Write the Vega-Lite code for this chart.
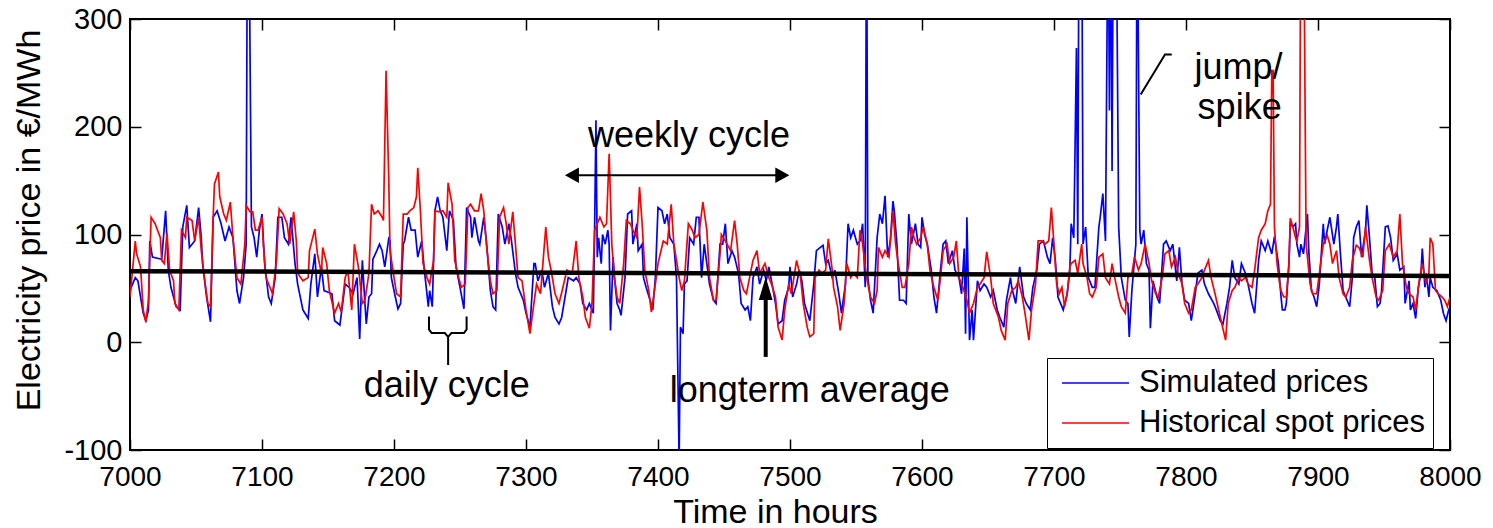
{
"$schema": "https://vega.github.io/schema/vega-lite/v6.json",
"width": 1320, "height": 431,
"autosize": {"type": "none"},
"padding": {"left": 130, "top": 19, "right": 43, "bottom": 78},
"background": "white",
"config": {"font": "Liberation Sans", "view": {"stroke": "black", "strokeWidth": 2}, "axis": {"grid": false, "domain": false, "tickColor": "black", "tickWidth": 1.5, "tickSize": 11, "offset": -11, "labelColor": "black", "titleColor": "black", "titleFontWeight": "normal", "labelFlush": false, "labelOverlap": false}},
"datasets": {
"sim": [{"h":7000,"v":48},{"h":7004,"v":60},{"h":7006,"v":57},{"h":7010,"v":27},{"h":7012,"v":20},{"h":7014,"v":30},{"h":7015,"v":94},{"h":7017,"v":79},{"h":7024,"v":77},{"h":7027,"v":122},{"h":7029,"v":67},{"h":7031,"v":51},{"h":7035,"v":33},{"h":7038,"v":30},{"h":7040,"v":107},{"h":7043,"v":127},{"h":7045,"v":88},{"h":7049,"v":94},{"h":7052,"v":125},{"h":7054,"v":97},{"h":7055,"v":73},{"h":7058,"v":42},{"h":7061,"v":19},{"h":7063,"v":116},{"h":7066,"v":122},{"h":7069,"v":110},{"h":7072,"v":94},{"h":7075,"v":107},{"h":7078,"v":97},{"h":7081,"v":48},{"h":7083,"v":36},{"h":7086,"v":60},{"h":7088,"v":91},{"h":7089,"v":420},{"h":7090,"v":410},{"h":7092,"v":107},{"h":7094,"v":97},{"h":7096,"v":79},{"h":7098,"v":104},{"h":7100,"v":119},{"h":7102,"v":73},{"h":7105,"v":42},{"h":7107,"v":36},{"h":7110,"v":60},{"h":7112,"v":116},{"h":7115,"v":116},{"h":7117,"v":97},{"h":7120,"v":91},{"h":7122,"v":116},{"h":7125,"v":73},{"h":7127,"v":54},{"h":7131,"v":30},{"h":7135,"v":22},{"h":7137,"v":54},{"h":7140,"v":82},{"h":7142,"v":42},{"h":7145,"v":70},{"h":7147,"v":48},{"h":7153,"v":45},{"h":7155,"v":20},{"h":7159,"v":16},{"h":7163,"v":54},{"h":7166,"v":51},{"h":7169,"v":45},{"h":7172,"v":60},{"h":7174,"v":3},{"h":7176,"v":76},{"h":7178,"v":36},{"h":7179,"v":17},{"h":7181,"v":42},{"h":7183,"v":45},{"h":7184,"v":77},{"h":7187,"v":85},{"h":7189,"v":91},{"h":7191,"v":85},{"h":7193,"v":70},{"h":7196,"v":96},{"h":7197,"v":94},{"h":7198,"v":60},{"h":7201,"v":42},{"h":7203,"v":31},{"h":7205,"v":36},{"h":7207,"v":91},{"h":7208,"v":94},{"h":7211,"v":116},{"h":7213,"v":104},{"h":7216,"v":104},{"h":7218,"v":79},{"h":7221,"v":94},{"h":7223,"v":67},{"h":7226,"v":33},{"h":7227,"v":48},{"h":7229,"v":33},{"h":7231,"v":122},{"h":7233,"v":135},{"h":7235,"v":122},{"h":7237,"v":116},{"h":7240,"v":85},{"h":7242,"v":122},{"h":7245,"v":113},{"h":7247,"v":70},{"h":7250,"v":51},{"h":7253,"v":31},{"h":7255,"v":125},{"h":7258,"v":116},{"h":7259,"v":97},{"h":7261,"v":116},{"h":7264,"v":94},{"h":7265,"v":91},{"h":7268,"v":116},{"h":7270,"v":94},{"h":7273,"v":48},{"h":7275,"v":33},{"h":7277,"v":30},{"h":7279,"v":119},{"h":7282,"v":107},{"h":7284,"v":91},{"h":7287,"v":110},{"h":7289,"v":94},{"h":7292,"v":64},{"h":7294,"v":51},{"h":7298,"v":39},{"h":7300,"v":27},{"h":7303,"v":14},{"h":7306,"v":73},{"h":7307,"v":73},{"h":7309,"v":57},{"h":7312,"v":67},{"h":7314,"v":51},{"h":7317,"v":64},{"h":7320,"v":33},{"h":7322,"v":23},{"h":7325,"v":17},{"h":7327,"v":23},{"h":7330,"v":45},{"h":7332,"v":60},{"h":7336,"v":57},{"h":7338,"v":60},{"h":7341,"v":54},{"h":7343,"v":36},{"h":7346,"v":30},{"h":7348,"v":36},{"h":7351,"v":27},{"h":7352,"v":107},{"h":7353,"v":206},{"h":7354,"v":79},{"h":7355,"v":97},{"h":7357,"v":73},{"h":7358,"v":100},{"h":7360,"v":91},{"h":7362,"v":104},{"h":7363,"v":91},{"h":7364,"v":11},{"h":7366,"v":79},{"h":7367,"v":60},{"h":7369,"v":36},{"h":7371,"v":30},{"h":7372,"v":25},{"h":7375,"v":60},{"h":7377,"v":119},{"h":7380,"v":122},{"h":7381,"v":91},{"h":7384,"v":110},{"h":7385,"v":85},{"h":7388,"v":91},{"h":7389,"v":60},{"h":7391,"v":51},{"h":7394,"v":39},{"h":7396,"v":30},{"h":7398,"v":60},{"h":7400,"v":125},{"h":7403,"v":122},{"h":7405,"v":110},{"h":7407,"v":119},{"h":7409,"v":97},{"h":7412,"v":91},{"h":7414,"v":60},{"h":7416,"v":-110},{"h":7417,"v":14},{"h":7419,"v":8},{"h":7420,"v":54},{"h":7422,"v":57},{"h":7424,"v":97},{"h":7427,"v":91},{"h":7429,"v":116},{"h":7431,"v":116},{"h":7433,"v":60},{"h":7435,"v":91},{"h":7437,"v":73},{"h":7439,"v":54},{"h":7442,"v":39},{"h":7444,"v":36},{"h":7447,"v":91},{"h":7449,"v":91},{"h":7451,"v":110},{"h":7453,"v":73},{"h":7456,"v":85},{"h":7458,"v":79},{"h":7461,"v":64},{"h":7463,"v":36},{"h":7466,"v":30},{"h":7468,"v":33},{"h":7470,"v":20},{"h":7472,"v":60},{"h":7475,"v":70},{"h":7477,"v":54},{"h":7480,"v":67},{"h":7482,"v":57},{"h":7484,"v":70},{"h":7486,"v":57},{"h":7489,"v":36},{"h":7491,"v":17},{"h":7494,"v":20},{"h":7496,"v":39},{"h":7499,"v":51},{"h":7500,"v":70},{"h":7502,"v":42},{"h":7505,"v":54},{"h":7507,"v":67},{"h":7509,"v":57},{"h":7511,"v":36},{"h":7515,"v":20},{"h":7518,"v":54},{"h":7520,"v":85},{"h":7523,"v":88},{"h":7525,"v":90},{"h":7527,"v":73},{"h":7529,"v":76},{"h":7532,"v":60},{"h":7534,"v":67},{"h":7537,"v":45},{"h":7539,"v":27},{"h":7542,"v":54},{"h":7544,"v":110},{"h":7546,"v":97},{"h":7548,"v":104},{"h":7551,"v":91},{"h":7553,"v":94},{"h":7555,"v":110},{"h":7557,"v":51},{"h":7558,"v":420},{"h":7559,"v":60},{"h":7561,"v":39},{"h":7563,"v":27},{"h":7566,"v":97},{"h":7568,"v":119},{"h":7570,"v":110},{"h":7572,"v":136},{"h":7574,"v":79},{"h":7576,"v":94},{"h":7578,"v":131},{"h":7579,"v":122},{"h":7581,"v":91},{"h":7583,"v":39},{"h":7586,"v":39},{"h":7588,"v":36},{"h":7590,"v":119},{"h":7592,"v":91},{"h":7595,"v":110},{"h":7597,"v":91},{"h":7599,"v":88},{"h":7600,"v":116},{"h":7602,"v":100},{"h":7604,"v":91},{"h":7607,"v":67},{"h":7609,"v":42},{"h":7611,"v":27},{"h":7614,"v":67},{"h":7616,"v":91},{"h":7618,"v":94},{"h":7620,"v":73},{"h":7623,"v":85},{"h":7625,"v":67},{"h":7628,"v":60},{"h":7630,"v":45},{"h":7632,"v":87},{"h":7633,"v":8},{"h":7634,"v":116},{"h":7636,"v":2},{"h":7638,"v":30},{"h":7639,"v":2},{"h":7642,"v":57},{"h":7644,"v":48},{"h":7647,"v":54},{"h":7649,"v":51},{"h":7652,"v":42},{"h":7654,"v":48},{"h":7657,"v":30},{"h":7659,"v":23},{"h":7662,"v":14},{"h":7664,"v":39},{"h":7667,"v":60},{"h":7668,"v":51},{"h":7671,"v":36},{"h":7674,"v":70},{"h":7677,"v":42},{"h":7679,"v":36},{"h":7682,"v":30},{"h":7684,"v":51},{"h":7687,"v":67},{"h":7689,"v":91},{"h":7692,"v":94},{"h":7695,"v":79},{"h":7697,"v":73},{"h":7699,"v":97},{"h":7701,"v":76},{"h":7703,"v":42},{"h":7706,"v":33},{"h":7707,"v":30},{"h":7710,"v":45},{"h":7712,"v":67},{"h":7713,"v":110},{"h":7715,"v":97},{"h":7717,"v":273},{"h":7718,"v":91},{"h":7719,"v":420},{"h":7721,"v":420},{"h":7722,"v":91},{"h":7724,"v":107},{"h":7726,"v":60},{"h":7729,"v":51},{"h":7731,"v":51},{"h":7734,"v":107},{"h":7735,"v":116},{"h":7737,"v":138},{"h":7739,"v":94},{"h":7741,"v":420},{"h":7742,"v":215},{"h":7743,"v":420},{"h":7744,"v":159},{"h":7745,"v":420},{"h":7747,"v":420},{"h":7749,"v":107},{"h":7751,"v":60},{"h":7754,"v":39},{"h":7756,"v":36},{"h":7757,"v":5},{"h":7759,"v":48},{"h":7762,"v":91},{"h":7763,"v":420},{"h":7765,"v":104},{"h":7766,"v":91},{"h":7768,"v":104},{"h":7770,"v":73},{"h":7772,"v":67},{"h":7773,"v":13},{"h":7775,"v":57},{"h":7778,"v":42},{"h":7780,"v":36},{"h":7783,"v":91},{"h":7785,"v":94},{"h":7788,"v":85},{"h":7790,"v":91},{"h":7793,"v":57},{"h":7795,"v":88},{"h":7797,"v":54},{"h":7799,"v":39},{"h":7802,"v":36},{"h":7804,"v":20},{"h":7807,"v":45},{"h":7809,"v":64},{"h":7812,"v":67},{"h":7814,"v":54},{"h":7817,"v":45},{"h":7821,"v":36},{"h":7823,"v":30},{"h":7826,"v":20},{"h":7828,"v":17},{"h":7831,"v":36},{"h":7833,"v":51},{"h":7835,"v":76},{"h":7837,"v":60},{"h":7840,"v":54},{"h":7842,"v":73},{"h":7845,"v":64},{"h":7847,"v":54},{"h":7850,"v":36},{"h":7852,"v":27},{"h":7855,"v":76},{"h":7857,"v":94},{"h":7860,"v":85},{"h":7862,"v":94},{"h":7865,"v":82},{"h":7867,"v":98},{"h":7870,"v":73},{"h":7872,"v":42},{"h":7873,"v":30},{"h":7875,"v":30},{"h":7876,"v":36},{"h":7878,"v":73},{"h":7879,"v":110},{"h":7881,"v":107},{"h":7883,"v":110},{"h":7884,"v":91},{"h":7886,"v":79},{"h":7887,"v":91},{"h":7889,"v":82},{"h":7892,"v":119},{"h":7893,"v":85},{"h":7895,"v":48},{"h":7897,"v":42},{"h":7899,"v":33},{"h":7901,"v":54},{"h":7904,"v":110},{"h":7905,"v":91},{"h":7907,"v":104},{"h":7909,"v":116},{"h":7912,"v":91},{"h":7914,"v":107},{"h":7915,"v":119},{"h":7917,"v":82},{"h":7919,"v":48},{"h":7922,"v":39},{"h":7924,"v":33},{"h":7926,"v":60},{"h":7927,"v":97},{"h":7929,"v":107},{"h":7931,"v":113},{"h":7933,"v":79},{"h":7936,"v":104},{"h":7937,"v":127},{"h":7939,"v":97},{"h":7941,"v":64},{"h":7943,"v":60},{"h":7945,"v":33},{"h":7947,"v":36},{"h":7948,"v":45},{"h":7951,"v":107},{"h":7953,"v":108},{"h":7955,"v":97},{"h":7957,"v":76},{"h":7960,"v":82},{"h":7962,"v":67},{"h":7965,"v":70},{"h":7966,"v":36},{"h":7969,"v":57},{"h":7970,"v":30},{"h":7972,"v":36},{"h":7974,"v":22},{"h":7976,"v":51},{"h":7978,"v":64},{"h":7979,"v":87},{"h":7981,"v":51},{"h":7982,"v":64},{"h":7984,"v":42},{"h":7985,"v":60},{"h":7987,"v":51},{"h":7990,"v":48},{"h":7993,"v":39},{"h":7995,"v":27},{"h":7997,"v":20},{"h":7999,"v":30},{"h":8000,"v":33}],
"hist": [{"h":7000,"v":42},{"h":7004,"v":94},{"h":7005,"v":82},{"h":7008,"v":70},{"h":7010,"v":30},{"h":7012,"v":19},{"h":7014,"v":39},{"h":7016,"v":116},{"h":7019,"v":110},{"h":7023,"v":97},{"h":7024,"v":76},{"h":7026,"v":73},{"h":7028,"v":101},{"h":7030,"v":67},{"h":7033,"v":57},{"h":7034,"v":36},{"h":7037,"v":30},{"h":7039,"v":104},{"h":7042,"v":97},{"h":7043,"v":116},{"h":7047,"v":113},{"h":7049,"v":94},{"h":7052,"v":116},{"h":7054,"v":85},{"h":7057,"v":54},{"h":7059,"v":36},{"h":7061,"v":33},{"h":7063,"v":116},{"h":7064,"v":147},{"h":7067,"v":158},{"h":7068,"v":135},{"h":7071,"v":119},{"h":7073,"v":113},{"h":7076,"v":130},{"h":7078,"v":97},{"h":7081,"v":60},{"h":7084,"v":54},{"h":7087,"v":91},{"h":7088,"v":127},{"h":7091,"v":121},{"h":7093,"v":121},{"h":7095,"v":104},{"h":7097,"v":104},{"h":7100,"v":116},{"h":7101,"v":91},{"h":7103,"v":60},{"h":7106,"v":51},{"h":7108,"v":45},{"h":7111,"v":76},{"h":7113,"v":124},{"h":7116,"v":119},{"h":7119,"v":110},{"h":7121,"v":91},{"h":7124,"v":121},{"h":7126,"v":94},{"h":7127,"v":64},{"h":7131,"v":57},{"h":7135,"v":60},{"h":7136,"v":85},{"h":7140,"v":105},{"h":7142,"v":82},{"h":7145,"v":64},{"h":7146,"v":88},{"h":7149,"v":73},{"h":7151,"v":48},{"h":7155,"v":27},{"h":7158,"v":36},{"h":7160,"v":28},{"h":7163,"v":60},{"h":7165,"v":67},{"h":7168,"v":30},{"h":7170,"v":91},{"h":7173,"v":70},{"h":7176,"v":36},{"h":7178,"v":39},{"h":7181,"v":64},{"h":7183,"v":128},{"h":7185,"v":119},{"h":7188,"v":122},{"h":7191,"v":116},{"h":7192,"v":113},{"h":7194,"v":252},{"h":7196,"v":153},{"h":7197,"v":85},{"h":7200,"v":60},{"h":7202,"v":45},{"h":7205,"v":42},{"h":7207,"v":119},{"h":7210,"v":119},{"h":7212,"v":122},{"h":7215,"v":125},{"h":7217,"v":135},{"h":7218,"v":162},{"h":7220,"v":122},{"h":7222,"v":73},{"h":7225,"v":60},{"h":7227,"v":54},{"h":7230,"v":76},{"h":7231,"v":122},{"h":7234,"v":121},{"h":7237,"v":122},{"h":7240,"v":116},{"h":7241,"v":148},{"h":7244,"v":128},{"h":7246,"v":76},{"h":7249,"v":60},{"h":7251,"v":51},{"h":7254,"v":54},{"h":7256,"v":125},{"h":7258,"v":128},{"h":7261,"v":122},{"h":7264,"v":122},{"h":7266,"v":138},{"h":7268,"v":122},{"h":7270,"v":91},{"h":7273,"v":57},{"h":7275,"v":45},{"h":7278,"v":48},{"h":7280,"v":116},{"h":7283,"v":125},{"h":7285,"v":110},{"h":7287,"v":91},{"h":7290,"v":121},{"h":7292,"v":91},{"h":7294,"v":60},{"h":7297,"v":57},{"h":7300,"v":30},{"h":7303,"v":8},{"h":7306,"v":36},{"h":7308,"v":54},{"h":7311,"v":45},{"h":7313,"v":76},{"h":7315,"v":107},{"h":7317,"v":79},{"h":7319,"v":67},{"h":7322,"v":45},{"h":7325,"v":36},{"h":7328,"v":51},{"h":7331,"v":67},{"h":7335,"v":64},{"h":7338,"v":94},{"h":7340,"v":60},{"h":7343,"v":42},{"h":7345,"v":23},{"h":7348,"v":13},{"h":7350,"v":36},{"h":7352,"v":104},{"h":7354,"v":110},{"h":7356,"v":116},{"h":7359,"v":107},{"h":7361,"v":110},{"h":7363,"v":175},{"h":7365,"v":91},{"h":7367,"v":60},{"h":7369,"v":42},{"h":7371,"v":36},{"h":7374,"v":73},{"h":7376,"v":113},{"h":7379,"v":110},{"h":7381,"v":104},{"h":7384,"v":97},{"h":7386,"v":144},{"h":7388,"v":110},{"h":7390,"v":67},{"h":7393,"v":48},{"h":7395,"v":28},{"h":7398,"v":54},{"h":7400,"v":73},{"h":7404,"v":94},{"h":7407,"v":91},{"h":7410,"v":128},{"h":7412,"v":91},{"h":7414,"v":76},{"h":7416,"v":60},{"h":7418,"v":48},{"h":7420,"v":57},{"h":7423,"v":110},{"h":7426,"v":104},{"h":7428,"v":97},{"h":7431,"v":100},{"h":7434,"v":130},{"h":7437,"v":104},{"h":7439,"v":60},{"h":7442,"v":39},{"h":7444,"v":39},{"h":7447,"v":82},{"h":7448,"v":100},{"h":7451,"v":94},{"h":7455,"v":85},{"h":7458,"v":113},{"h":7460,"v":91},{"h":7462,"v":60},{"h":7465,"v":48},{"h":7467,"v":45},{"h":7470,"v":64},{"h":7472,"v":76},{"h":7475,"v":85},{"h":7477,"v":64},{"h":7481,"v":73},{"h":7484,"v":60},{"h":7486,"v":54},{"h":7489,"v":42},{"h":7491,"v":14},{"h":7494,"v":2},{"h":7496,"v":30},{"h":7499,"v":54},{"h":7501,"v":45},{"h":7505,"v":76},{"h":7508,"v":60},{"h":7510,"v":36},{"h":7513,"v":14},{"h":7515,"v":5},{"h":7518,"v":8},{"h":7519,"v":60},{"h":7522,"v":67},{"h":7524,"v":64},{"h":7527,"v":67},{"h":7529,"v":96},{"h":7532,"v":67},{"h":7533,"v":51},{"h":7536,"v":33},{"h":7538,"v":11},{"h":7541,"v":36},{"h":7543,"v":73},{"h":7546,"v":60},{"h":7548,"v":64},{"h":7551,"v":60},{"h":7553,"v":104},{"h":7555,"v":91},{"h":7558,"v":60},{"h":7561,"v":42},{"h":7564,"v":36},{"h":7566,"v":48},{"h":7567,"v":88},{"h":7570,"v":79},{"h":7572,"v":85},{"h":7575,"v":79},{"h":7577,"v":107},{"h":7578,"v":122},{"h":7580,"v":91},{"h":7582,"v":73},{"h":7585,"v":51},{"h":7587,"v":51},{"h":7590,"v":73},{"h":7592,"v":107},{"h":7594,"v":97},{"h":7596,"v":91},{"h":7599,"v":97},{"h":7601,"v":107},{"h":7604,"v":91},{"h":7606,"v":67},{"h":7609,"v":51},{"h":7612,"v":39},{"h":7614,"v":60},{"h":7616,"v":85},{"h":7619,"v":91},{"h":7621,"v":73},{"h":7624,"v":79},{"h":7626,"v":94},{"h":7628,"v":60},{"h":7631,"v":51},{"h":7634,"v":39},{"h":7636,"v":27},{"h":7639,"v":36},{"h":7642,"v":51},{"h":7644,"v":54},{"h":7647,"v":60},{"h":7649,"v":84},{"h":7652,"v":60},{"h":7654,"v":36},{"h":7658,"v":23},{"h":7660,"v":11},{"h":7663,"v":2},{"h":7665,"v":36},{"h":7668,"v":48},{"h":7671,"v":51},{"h":7673,"v":57},{"h":7676,"v":42},{"h":7678,"v":27},{"h":7681,"v":2},{"h":7683,"v":30},{"h":7686,"v":54},{"h":7688,"v":94},{"h":7691,"v":94},{"h":7693,"v":91},{"h":7696,"v":94},{"h":7698,"v":125},{"h":7700,"v":91},{"h":7702,"v":54},{"h":7704,"v":45},{"h":7706,"v":51},{"h":7708,"v":33},{"h":7710,"v":45},{"h":7712,"v":70},{"h":7713,"v":73},{"h":7716,"v":76},{"h":7718,"v":64},{"h":7721,"v":91},{"h":7722,"v":73},{"h":7725,"v":60},{"h":7727,"v":45},{"h":7729,"v":42},{"h":7732,"v":51},{"h":7734,"v":79},{"h":7737,"v":82},{"h":7739,"v":60},{"h":7742,"v":54},{"h":7744,"v":73},{"h":7746,"v":60},{"h":7749,"v":42},{"h":7751,"v":33},{"h":7754,"v":27},{"h":7756,"v":60},{"h":7759,"v":64},{"h":7761,"v":79},{"h":7764,"v":67},{"h":7766,"v":73},{"h":7769,"v":91},{"h":7772,"v":73},{"h":7774,"v":57},{"h":7777,"v":45},{"h":7779,"v":42},{"h":7782,"v":60},{"h":7784,"v":82},{"h":7787,"v":85},{"h":7789,"v":70},{"h":7792,"v":79},{"h":7794,"v":64},{"h":7797,"v":54},{"h":7799,"v":36},{"h":7802,"v":27},{"h":7804,"v":30},{"h":7807,"v":51},{"h":7809,"v":54},{"h":7812,"v":60},{"h":7814,"v":67},{"h":7817,"v":76},{"h":7819,"v":60},{"h":7822,"v":45},{"h":7826,"v":23},{"h":7830,"v":2},{"h":7832,"v":36},{"h":7835,"v":48},{"h":7837,"v":51},{"h":7840,"v":60},{"h":7842,"v":57},{"h":7845,"v":60},{"h":7847,"v":54},{"h":7850,"v":51},{"h":7852,"v":67},{"h":7855,"v":97},{"h":7857,"v":104},{"h":7860,"v":110},{"h":7862,"v":122},{"h":7864,"v":128},{"h":7865,"v":252},{"h":7866,"v":252},{"h":7867,"v":107},{"h":7869,"v":73},{"h":7871,"v":54},{"h":7872,"v":48},{"h":7874,"v":42},{"h":7876,"v":42},{"h":7878,"v":73},{"h":7879,"v":115},{"h":7881,"v":107},{"h":7883,"v":97},{"h":7884,"v":94},{"h":7886,"v":107},{"h":7887,"v":420},{"h":7889,"v":420},{"h":7891,"v":91},{"h":7893,"v":67},{"h":7894,"v":54},{"h":7896,"v":45},{"h":7899,"v":45},{"h":7902,"v":73},{"h":7904,"v":91},{"h":7907,"v":99},{"h":7909,"v":91},{"h":7911,"v":73},{"h":7914,"v":85},{"h":7916,"v":60},{"h":7919,"v":45},{"h":7921,"v":42},{"h":7924,"v":51},{"h":7926,"v":76},{"h":7929,"v":90},{"h":7931,"v":88},{"h":7934,"v":79},{"h":7936,"v":107},{"h":7939,"v":76},{"h":7941,"v":60},{"h":7944,"v":42},{"h":7946,"v":39},{"h":7949,"v":48},{"h":7951,"v":85},{"h":7954,"v":91},{"h":7957,"v":79},{"h":7960,"v":85},{"h":7962,"v":119},{"h":7964,"v":73},{"h":7967,"v":51},{"h":7969,"v":45},{"h":7972,"v":42},{"h":7974,"v":30},{"h":7977,"v":60},{"h":7979,"v":73},{"h":7982,"v":54},{"h":7984,"v":64},{"h":7985,"v":97},{"h":7987,"v":91},{"h":7989,"v":48},{"h":7991,"v":45},{"h":7994,"v":42},{"h":7996,"v":39},{"h":7998,"v":33},{"h":8000,"v":42}]
},
"layer": [
{"data": {"name": "sim"}, "mark": {"type": "line", "clip": true, "strokeWidth": 1.7},
 "encoding": {
  "x": {"field": "h", "type": "quantitative", "scale": {"domain": [7000, 8000], "nice": false, "zero": false},
   "axis": {"orient": "bottom", "values": [7000,7100,7200,7300,7400,7500,7600,7700,7800,7900,8000], "labelExpr": "'' + datum.value", "labelFontSize": 28, "labelPadding": 13, "title": "Time in hours", "titleFontSize": 34, "titleX": 645, "titleY": 83, "titleBaseline": "alphabetic", "titleAlign": "center"}},
  "y": {"field": "v", "type": "quantitative", "scale": {"domain": [-100, 300], "nice": false, "zero": false},
   "axis": {"orient": "left", "values": [-100,0,100,200,300], "labelExpr": "'' + datum.value", "labelFontSize": 29, "labelPadding": 8, "title": "Electricity price in €/MWh", "titleFontSize": 34, "titleX": -102, "titleY": 201, "titleAngle": 270, "titleBaseline": "alphabetic", "titleAlign": "center"}},
  "color": {"datum": "Simulated prices", "type": "nominal", "scale": {"domain": ["Simulated prices", "Historical spot prices"], "range": ["#0000ff", "#ff0000"]},
   "legend": {"title": null, "orient": "none", "legendX": 917, "legendY": 339, "symbolType": "stroke", "symbolSize": 4489, "symbolStrokeWidth": 1.6, "labelFontSize": 31, "labelColor": "black", "labelOffset": 9, "padding": 8, "symbolOffset": 6, "clipHeight": 34, "rowPadding": 6, "strokeColor": "black", "fillColor": "white", "labelLimit": 400}}
 }},
{"data": {"name": "hist"}, "mark": {"type": "line", "clip": true, "strokeWidth": 1.7},
 "encoding": {
  "x": {"field": "h", "type": "quantitative", "axis": null},
  "y": {"field": "v", "type": "quantitative", "axis": null},
  "color": {"datum": "Historical spot prices", "type": "nominal"}
 }},
{"data": {"values": [{"h": 7000, "v": 66}, {"h": 8000, "v": 61.5}]}, "mark": {"type": "line", "color": "black", "strokeWidth": 4.5},
 "encoding": {
  "x": {"field": "h", "type": "quantitative", "axis": {"orient": "top", "values": [7000,7100,7200,7300,7400,7500,7600,7700,7800,7900,8000], "labels": false, "title": null}},
  "y": {"field": "v", "type": "quantitative", "axis": {"orient": "right", "values": [-100,0,100,200,300], "labels": false, "title": null}}
 }},
{"data": {"values": [{"i":0,"h":7226.5,"v":24},{"i":1,"h":7226.5,"v":12},{"i":2,"h":7228.5,"v":8.5},{"i":3,"h":7238.5,"v":8.5},{"i":4,"h":7241,"v":5},{"i":5,"h":7241,"v":-21},{"i":6,"h":7241,"v":5},{"i":7,"h":7243.5,"v":8.5},{"i":8,"h":7253,"v":8.5},{"i":9,"h":7255,"v":12},{"i":10,"h":7255,"v":24}]},
 "mark": {"type": "line", "color": "black", "strokeWidth": 2},
 "encoding": {"x": {"field": "h", "type": "quantitative", "axis": null}, "y": {"field": "v", "type": "quantitative", "axis": null}, "order": {"field": "i", "type": "quantitative"}}},
{"data": {"values": [{"h": 7765.7, "v": 230}, {"h": 7784.1, "v": 267}, {"h": 7789.2, "v": 267}]},
 "mark": {"type": "line", "color": "black", "strokeWidth": 2},
 "encoding": {"x": {"field": "h", "type": "quantitative", "axis": null}, "y": {"field": "v", "type": "quantitative", "axis": null}}},
{"data": {"values": [{"h": 7335, "h2": 7494, "v": 155}]},
 "mark": {"type": "rule", "color": "black", "strokeWidth": 2},
 "encoding": {"x": {"field": "h", "type": "quantitative", "axis": null}, "x2": {"field": "h2"}, "y": {"field": "v", "type": "quantitative", "axis": null}}},
{"data": {"values": [{"h": 7481.6, "v": -13.6, "v2": 45}]},
 "mark": {"type": "rule", "color": "black", "strokeWidth": 4},
 "encoding": {"x": {"field": "h", "type": "quantitative", "axis": null}, "y": {"field": "v", "type": "quantitative", "axis": null}, "y2": {"field": "v2"}}},
{"data": {"values": [{"h": 7329.5, "v": 155}]},
 "mark": {"type": "point", "shape": "M0,0L1,-0.55L1,0.55Z", "size": 784, "filled": true, "color": "black", "opacity": 1},
 "encoding": {"x": {"field": "h", "type": "quantitative", "axis": null}, "y": {"field": "v", "type": "quantitative", "axis": null}}},
{"data": {"values": [{"h": 7499.5, "v": 155}]},
 "mark": {"type": "point", "shape": "M0,0L-1,-0.55L-1,0.55Z", "size": 784, "filled": true, "color": "black", "opacity": 1},
 "encoding": {"x": {"field": "h", "type": "quantitative", "axis": null}, "y": {"field": "v", "type": "quantitative", "axis": null}}},
{"data": {"values": [{"h": 7481.6, "v": 60.5}]},
 "mark": {"type": "point", "shape": "M0,0L-0.3,1L0.3,1Z", "size": 2116, "filled": true, "color": "black", "opacity": 1},
 "encoding": {"x": {"field": "h", "type": "quantitative", "axis": null}, "y": {"field": "v", "type": "quantitative", "axis": null}}},
{"data": {"values": [{"h": 7423.5, "v": 181, "t": "weekly cycle"}, {"h": 7240, "v": -50.6, "t": "daily cycle"}, {"h": 7515, "v": -55.3, "t": "longterm average"}]},
 "mark": {"type": "text", "align": "center", "baseline": "alphabetic", "fontSize": 36, "color": "black"},
 "encoding": {"x": {"field": "h", "type": "quantitative", "axis": null}, "y": {"field": "v", "type": "quantitative", "axis": null}, "text": {"field": "t"}}},
{"data": {"values": [{"h": 7806.5, "v": 244, "t": "jump/"}, {"h": 7808.8, "v": 207, "t": "spike"}]},
 "mark": {"type": "text", "align": "left", "baseline": "alphabetic", "fontSize": 36, "color": "black"},
 "encoding": {"x": {"field": "h", "type": "quantitative", "axis": null}, "y": {"field": "v", "type": "quantitative", "axis": null}, "text": {"field": "t"}}}
],
"resolve": {"axis": {"x": "independent", "y": "independent"}}
}
